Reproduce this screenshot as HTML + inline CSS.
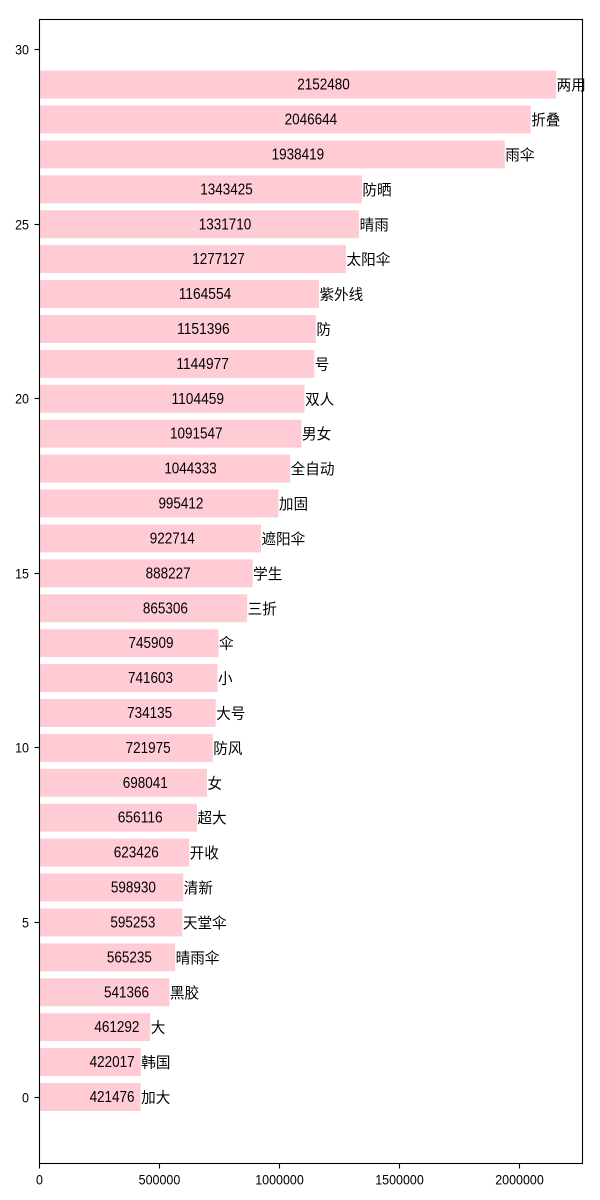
<!DOCTYPE html>
<html>
<head>
<meta charset="utf-8">
<style>
html,body{margin:0;padding:0;background:#fff;width:600px;height:1200px;overflow:hidden}
svg{display:block}
text{font-family:"Liberation Sans","WenQuanYi Zen Hei","Noto Sans CJK SC",sans-serif;fill:#000}
.tick{font-size:13.9px}
.val{font-size:15.28px}
.cat{font-size:14.6px}
</style>
</head>
<body>
<svg id="chart" width="600" height="1200" viewBox="0 0 600 1200" xmlns="http://www.w3.org/2000/svg"></svg>
<script>
const categories = ['加大','韩国','大','黑胶','晴雨伞','天堂伞','清新','开收','超大','女','防风','大号','小','伞','三折','学生','遮阳伞','加固','全自动','男女','双人','号','防','紫外线','太阳伞','晴雨','防晒','雨伞','折叠','两用'];
const values = [421476,422017,461292,541366,565235,595253,598930,623426,656116,698041,721975,734135,741603,745909,865306,888227,922714,995412,1044333,1091547,1104459,1144977,1151396,1164554,1277127,1331710,1343425,1938419,2046644,2152480];
const xTickLabels = [0,500000,1000000,1500000,2000000];
const yTickLabels = [0,5,10,15,20,25,30];

const NS = 'http://www.w3.org/2000/svg';
const svg = document.getElementById('chart');
const plotLeft = 39.5, plotRight = 582.5, plotTop = 19.5, plotBottom = 1163.5;
const xScale = v => plotLeft + v * 0.00024;
const yScale = v => 1097 - v * 34.91;
const barThickness = 0.8 * 34.91;

function make(tag, attrs, text){
  const el = document.createElementNS(NS, tag);
  for (const k in attrs) el.setAttribute(k, attrs[k]);
  if (text !== undefined) el.textContent = text;
  svg.appendChild(el);
  return el;
}

values.forEach((v, i) => {
  const bar = make('rect', {x: plotLeft, y: yScale(i) - barThickness / 2, width: xScale(v) - plotLeft, height: barThickness, fill: '#ffcbd5'});
  
  
});

const frame = make('rect', {x: plotLeft, y: plotTop, width: plotRight - plotLeft, height: plotBottom - plotTop, fill: 'none', stroke: '#000', 'stroke-width': 1.1});



xTickLabels.forEach(t => {
  const x = Math.round(xScale(t) - 0.5) + 0.5;
  const mark = make('line', {x1: x, x2: x, y1: plotBottom, y2: plotBottom + 5, stroke: '#000', 'stroke-width': 1.1});
  
  
  const s = String(t);
  const label = make('text', {x: x, y: 1184.5, 'text-anchor': 'middle', class: 'tick', textLength: s.length * 6.94, lengthAdjust: 'spacingAndGlyphs'}, s);
  
  
});

yTickLabels.forEach(t => {
  const y = Math.round(yScale(t) - 0.5) + 0.5;
  const mark = make('line', {x1: plotLeft - 5, x2: plotLeft, y1: y, y2: y, stroke: '#000', 'stroke-width': 1.1});
  
  
  const s = String(t);
  const label = make('text', {x: 29, y: y + 5, 'text-anchor': 'end', class: 'tick', textLength: s.length * 6.94, lengthAdjust: 'spacingAndGlyphs'}, s);
  
  
});

values.forEach((v, i) => {
  const s = String(v);
  const valueLabel = make('text', {x: xScale(v / 2) - 0.5, y: yScale(i) + 5, 'text-anchor': 'start', class: 'val', textLength: s.length * 7.5, lengthAdjust: 'spacingAndGlyphs'}, s);
  
  
  const catLabel = make('text', {x: xScale(v) + 0.5, y: yScale(i) + 5.5, 'text-anchor': 'start', class: 'cat'}, categories[i]);
  
  
});
</script>
</body>
</html>
